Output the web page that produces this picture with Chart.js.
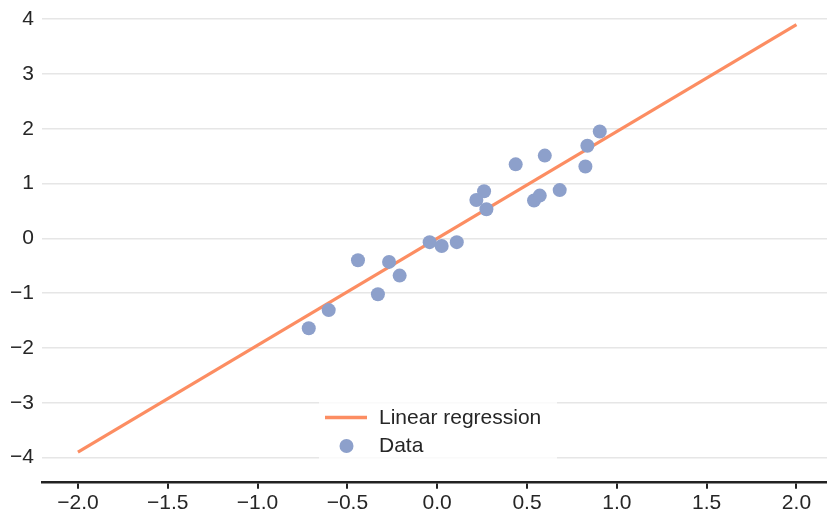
<!DOCTYPE html>
<html>
<head>
<meta charset="utf-8">
<script src="https://cdn.jsdelivr.net/npm/chart.js@4"></script>
<style>
  html, body { margin: 0; padding: 0; background: #ffffff; overflow: hidden; }
  #outer { width: 827px; height: 514px; position: relative; overflow: hidden; }
  #wrap { width: 834px; height: 521px; position: absolute; left: 0; top: -7px; }
</style>
</head>
<body>
<div id="outer"><div id="wrap"><canvas id="c"></canvas></div></div>
<script>
// ---- data ----
const dataX = [-0.715, -0.604, -0.441, -0.330, -0.268, -0.209, -0.042, 0.025, 0.109, 0.218,
               0.261, 0.274, 0.437, 0.539, 0.571, 0.599, 0.682, 0.825, 0.836, 0.905];
const dataY = [-1.64, -1.31, -0.40, -1.02, -0.43, -0.68, -0.07, -0.14, -0.07, 0.70,
               0.86, 0.53, 1.35, 0.69, 0.78, 1.51, 0.88, 1.31, 1.69, 1.95];
const regX = [-2.0, 2.0];
const regY = [-3.9, 3.9];
const xTicks = [-2.0, -1.5, -1.0, -0.5, 0.0, 0.5, 1.0, 1.5, 2.0];
const yTicks = [-4, -3, -2, -1, 0, 1, 2, 3, 4];
const seriesNames = ['Linear regression', 'Data'];

const ORANGE = '#fc8d62';
const BLUE = '#8da0cb';
const FONT = "'Liberation Sans', Arial, Helvetica, sans-serif";
const SHIFT = 7; // canvas is shifted up by this many px inside the page
const fmt = (v, d) => { const s = Math.abs(v).toFixed(d); return (v < 0 ? '\u2212' : '') + s; };

const legendPlugin = {
  id: 'insideLegend',
  afterDraw(chart) {
    const ctx = chart.ctx;
    ctx.save();
    ctx.translate(0, SHIFT);
    ctx.fillStyle = 'rgba(255,255,255,0.8)';
    ctx.fillRect(319, 395, 238, 69);
    ctx.strokeStyle = ORANGE;
    ctx.lineWidth = 3.5;
    ctx.beginPath();
    ctx.moveTo(325, 417.5);
    ctx.lineTo(367, 417.5);
    ctx.stroke();
    ctx.fillStyle = BLUE;
    ctx.beginPath();
    ctx.arc(346.5, 446, 7, 0, Math.PI * 2);
    ctx.fill();
    ctx.fillStyle = '#262626';
    ctx.font = '21px ' + FONT;
    ctx.textBaseline = 'middle';
    ctx.textAlign = 'left';
    ctx.fillText(seriesNames[0], 379, 418);
    ctx.fillText(seriesNames[1], 379, 446);
    ctx.restore();
  }
};

new Chart(document.getElementById('c'), {
  type: 'scatter',
  data: {
    datasets: [
      {
        label: seriesNames[1],
        data: dataX.map((x, i) => ({ x: x, y: dataY[i] })),
        backgroundColor: BLUE,
        borderWidth: 0,
        pointRadius: 7,
        pointHoverRadius: 7,
        order: 0
      },
      {
        type: 'line',
        label: seriesNames[0],
        data: regX.map((x, i) => ({ x: x, y: regY[i] })),
        borderColor: ORANGE,
        borderWidth: 3.2,
        pointRadius: 0,
        pointHoverRadius: 0,
        fill: false,
        order: 1
      }
    ]
  },
  options: {
    responsive: true,
    maintainAspectRatio: false,
    animation: false,
    layout: { padding: { left: 0, right: 0, top: 0, bottom: 0 } },
    plugins: {
      legend: { display: false },
      tooltip: { enabled: false }
    },
    scales: {
      x: {
        type: 'linear',
        min: -2.2,
        max: 2.17,
        afterBuildTicks: (s) => { s.ticks = xTicks.map(v => ({ value: v })); },
        afterFit: (s) => { s.height = 31.3; s.paddingLeft = 0; s.paddingRight = 0; },
        grid: { display: true, drawOnChartArea: false, drawTicks: true, tickLength: 6, color: '#222', lineWidth: 2 },
        border: { display: true, color: '#222', width: 2.5 },
        ticks: {
          color: '#262626',
          font: { family: FONT, size: 21 },
          padding: 2,
          maxRotation: 0,
          autoSkip: false,
          callback: (v) => fmt(v, 1)
        }
      },
      y: {
        type: 'linear',
        min: -4.46,
        max: 4.35,
        afterBuildTicks: (s) => { s.ticks = yTicks.map(v => ({ value: v })); },
        afterFit: (s) => { s.width = 42; s.paddingTop = 0; s.paddingBottom = 0; },
        grid: { color: '#e6e6e6', lineWidth: 1.5, drawTicks: false },
        border: { display: false },
        ticks: {
          color: '#262626',
          font: { family: FONT, size: 21 },
          padding: 8,
          autoSkip: false,
          callback: (v) => fmt(v, 0)
        }
      }
    }
  },
  plugins: [legendPlugin]
});
</script>
</body>
</html>
